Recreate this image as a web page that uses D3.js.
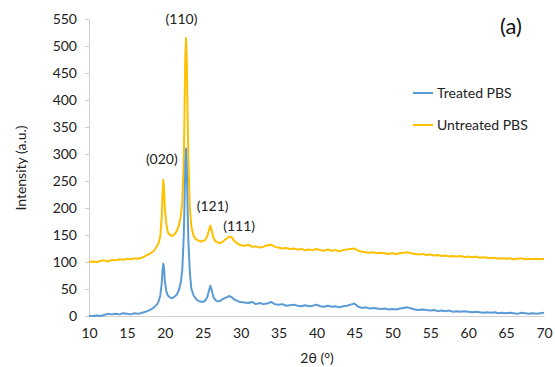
<!DOCTYPE html>
<html>
<head>
<meta charset="utf-8">
<script src="https://cdn.jsdelivr.net/npm/d3@7"></script>
<style>
  body { margin: 0; background: #fff; }
  text { font-family: Lato, "Open Sans", sans-serif; }
</style>
</head>
<body>
<svg id="chart" width="555" height="367"></svg>
<script>
// 2-theta positions (deg) shared by both patterns
var twoTheta = [10,10.5,11,11.5,12,12.5,13,13.5,14,14.5,15,15.5,16,16.5,17,17.5,18,18.5,19,
  19.2,19.4,19.6,19.7,19.8,19.9,20.0,20.2,20.4,20.7,21,21.3,21.6,21.9,22.1,22.3,22.5,22.6,22.7,22.8,22.9,
  23.0,23.1,23.3,23.5,23.8,24.1,24.4,24.7,25,25.3,25.6,25.8,26,26.2,26.4,26.7,27,27.3,27.6,27.9,28.2,28.5,
  28.8,29.1,29.4,29.7,30,30.5,31,31.5,32,32.5,33,33.5,34,34.5,35,35.5,36,36.5,37,37.5,38,38.5,39,39.5,
  40,40.5,41,41.5,42,42.5,43,43.5,44,44.5,45,45.5,46,46.5,47,47.5,48,48.5,49,49.5,50,50.5,51,51.5,52,
  52.5,53,53.5,54,54.5,55,55.5,56,56.5,57,57.5,58,58.5,59,59.5,60,60.5,61,61.5,62,62.5,63,63.5,64,64.5,
  65,65.5,66,66.5,67,67.5,68,68.5,69,69.5,70];

var untreated = [100,101,100,102,103,101,104,103,105,104,106,105,107,106,108,112,115,120,130,
  136,148,185,225,252,235,200,170,155,150,148,152,158,170,185,210,290,380,480,515,470,
  380,290,200,165,148,142,140,138,139,140,148,158,167,158,145,138,136,135,137,141,144,147,
  146,140,136,133,131,130,132,128,129,127,128,131,132,128,127,125,126,124,125,123,124,122,123,122,
  124,122,121,123,121,122,120,122,123,124,125,121,119,118,117,118,116,117,116,115,116,115,116,117,118,
  116,115,114,115,113,114,112,113,111,112,110,111,110,111,109,110,109,110,108,109,108,107,108,106,107,
  106,107,105,106,107,105,106,105,106,105,106];

var treated = [0,0,1,0,2,4,3,4,3,5,4,3,5,4,6,8,11,15,22,
  28,38,62,85,97,88,65,45,38,34,33,36,40,50,62,85,150,210,280,310,270,
  200,140,80,50,38,32,28,27,26,28,35,46,56,47,35,29,27,28,31,33,35,37,
  35,31,29,27,26,25,24,26,22,24,22,23,26,22,21,22,19,20,21,19,18,20,18,19,
  21,18,17,19,17,18,16,18,19,21,23,17,15,16,14,15,14,13,14,12,13,12,14,15,16,
  14,12,11,12,11,10,11,9,10,9,10,8,9,8,9,8,7,8,7,6,7,6,7,5,6,
  5,6,5,4,6,5,4,5,4,5,6];

var seriesNames = ["Treated PBS", "Untreated PBS"];
var seriesColors = ["#5b9bd5", "#ffc000"];

var peakLabels = ["(020)", "(110)", "(121)", "(111)"];
var peakX = [19.6, 22.2, 26.3, 29.8];
var peakY = [282, 540, 194, 158];

var xTicks = [10,15,20,25,30,35,40,45,50,55,60,65,70];
var yTicks = [0,50,100,150,200,250,300,350,400,450,500,550];

var svg = d3.select("#chart"),
    margin = {top: 19, left: 89, bottom: 51, right: 11},
    width = +svg.attr("width"),
    height = +svg.attr("height");

var x = d3.scaleLinear().domain([10, 70]).range([margin.left, width - margin.right]);
var y = d3.scaleLinear().domain([0, 550]).range([height - margin.bottom, margin.top]);

// y axis
var yAxis = svg.append("g")
    .attr("transform", `translate(${margin.left},0)`)
    .call(d3.axisLeft(y).tickValues(yTicks).tickSize(4).tickPadding(8).tickSizeOuter(0));
yAxis.select(".domain").attr("stroke", "#d0d0d0");
yAxis.selectAll(".tick line").attr("stroke", "#d0d0d0");
yAxis.selectAll("text").attr("font-size", 14).attr("fill", "#222");

// x axis
var xAxis = svg.append("g")
    .attr("transform", `translate(0,${height - margin.bottom})`)
    .call(d3.axisBottom(x).tickValues(xTicks).tickSize(0).tickPadding(12).tickSizeOuter(0));
xAxis.select(".domain").attr("stroke", "#d0d0d0");
xAxis.selectAll("text").attr("font-size", 14).attr("fill", "#222");

// axis titles
svg.append("text")
    .attr("x", 317).attr("y", 363)
    .attr("text-anchor", "middle").attr("font-size", 14).attr("fill", "#222")
    .text("2θ (°)");
svg.append("text")
    .attr("transform", "translate(26,168) rotate(-90)")
    .attr("text-anchor", "middle").attr("font-size", 14).attr("fill", "#222")
    .text("Intensity (a.u.)");

// patterns
var line = d3.line().x((d, i) => x(twoTheta[i])).y(d => y(d));
[untreated, treated].forEach(function(vals, k) {
    svg.append("path")
        .datum(vals)
        .attr("fill", "none")
        .attr("stroke", k == 0 ? seriesColors[1] : seriesColors[0])
        .attr("stroke-width", 2)
        .attr("stroke-linejoin", "round")
        .attr("d", line);
});

// peak labels
svg.selectAll("text.peak").data(peakLabels).enter().append("text")
    .attr("class", "peak")
    .attr("x", (d, i) => x(peakX[i]))
    .attr("y", (d, i) => y(peakY[i]))
    .attr("text-anchor", "middle").attr("font-size", 14).attr("fill", "#222")
    .text(d => d);

// legend
var legend = svg.append("g").attr("transform", "translate(413,93)");
seriesNames.forEach(function(name, i) {
    var g = legend.append("g").attr("transform", `translate(0,${i * 32})`);
    g.append("line").attr("x1", 0).attr("x2", 20).attr("y1", 0).attr("y2", 0)
        .attr("stroke", seriesColors[i]).attr("stroke-width", 2);
    g.append("text").attr("x", 24).attr("y", 5).attr("font-size", 14).attr("fill", "#222").text(name);
});

// panel label
svg.append("text")
    .attr("x", 500).attr("y", 34)
    .attr("font-size", 22).attr("fill", "#111")
    .text("(a)");
</script>
</body>
</html>
